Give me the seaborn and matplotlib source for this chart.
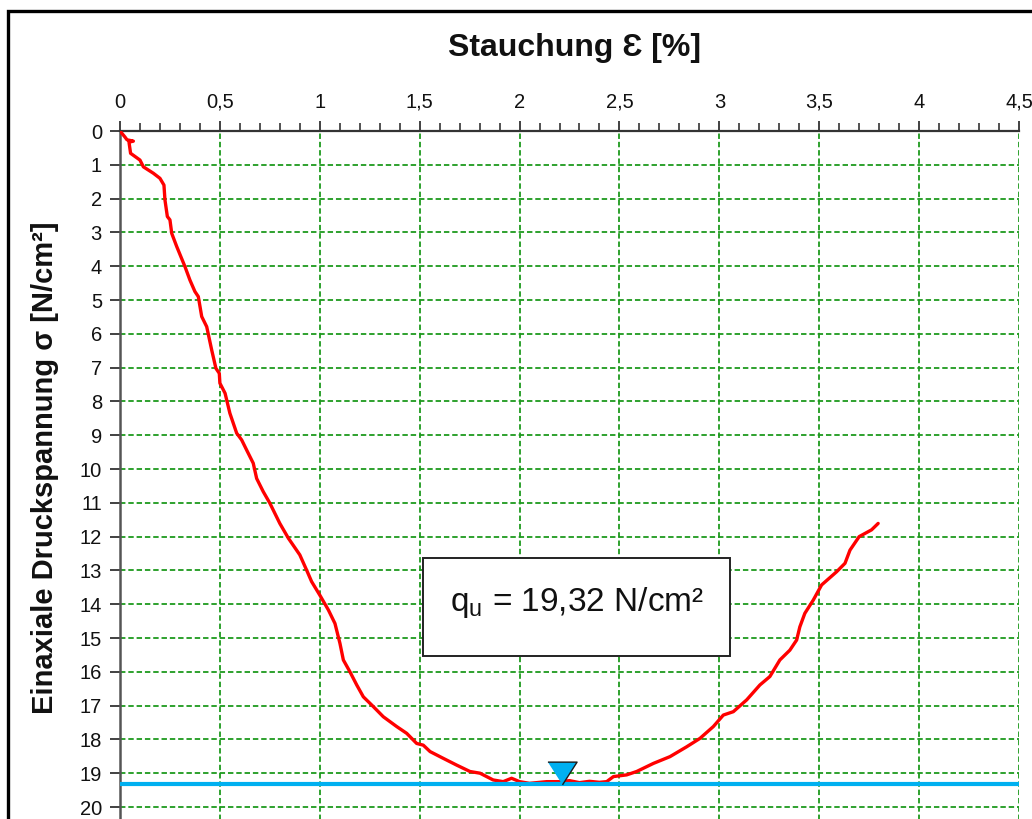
import matplotlib
matplotlib.use("Agg")
import matplotlib.pyplot as plt
import matplotlib.patches as mpatches
from matplotlib.ticker import MultipleLocator
import seaborn as sns
import pandas as pd

# ---- data ----
strain = [0.0, 0.025, 0.035, 0.067, 0.045, 0.053, 0.10, 0.117, 0.167, 0.20, 0.22,
          0.225, 0.237, 0.25, 0.259, 0.284, 0.325, 0.35, 0.375, 0.392, 0.409,
          0.434, 0.459, 0.48, 0.497, 0.50, 0.526, 0.55, 0.584, 0.609, 0.634,
          0.667, 0.684, 0.717, 0.75, 0.80, 0.843, 0.90, 0.934, 0.959, 1.0,
          1.043, 1.076, 1.101, 1.118, 1.151, 1.185, 1.218, 1.268, 1.318, 1.385,
          1.435, 1.485, 1.518, 1.552, 1.618, 1.685, 1.752, 1.802, 1.868, 1.918,
          1.96, 2.0, 2.05, 2.136, 2.20, 2.25, 2.30, 2.35, 2.40, 2.436, 2.47,
          2.536, 2.586, 2.67, 2.753, 2.836, 2.903, 2.97, 3.02, 3.07, 3.137,
          3.203, 3.253, 3.303, 3.353, 3.387, 3.403, 3.428, 3.47, 3.512, 3.587,
          3.629, 3.654, 3.70, 3.762, 3.795]
stress = [0.0, 0.18, 0.26, 0.30, 0.33, 0.66, 0.86, 1.06, 1.25, 1.40, 1.60,
          2.04, 2.53, 2.63, 3.03, 3.42, 4.01, 4.41, 4.75, 4.90, 5.49,
          5.79, 6.48, 7.02, 7.17, 7.46, 7.76, 8.35, 8.94, 9.14, 9.44,
          9.83, 10.28, 10.67, 11.01, 11.61, 12.05, 12.54, 12.99, 13.33, 13.73,
          14.17, 14.57, 15.16, 15.65, 16.00, 16.39, 16.74, 17.03, 17.33, 17.62,
          17.82, 18.12, 18.17, 18.36, 18.56, 18.76, 18.95, 19.00, 19.20, 19.25,
          19.15, 19.25, 19.30, 19.25, 19.25, 19.22, 19.28, 19.24, 19.27, 19.25, 19.10,
          19.05, 18.95, 18.71, 18.51, 18.22, 17.97, 17.62, 17.28, 17.18, 16.83,
          16.39, 16.14, 15.65, 15.36, 15.06, 14.67, 14.27, 13.88, 13.43, 13.04,
          12.79, 12.40, 12.00, 11.80, 11.61]
qu_value = 19.32
qu_strain = 2.21
x_ticks = [0, 0.5, 1, 1.5, 2, 2.5, 3, 3.5, 4, 4.5]
x_ticklabels = ["0", "0,5", "1", "1,5", "2", "2,5", "3", "3,5", "4", "4,5"]
y_ticks = list(range(0, 21))
title_text = "Stauchung Ɛ [%]"
ylabel_text = "Einaxiale Druckspannung σ [N/cm²]"
box_text = "q$_{\\mathregular{u}}$ = 19,32 N/cm²"

df = pd.DataFrame({"strain": strain, "stress": stress})

sns.set_style("white")
plt.rcParams["font.family"] = ["Liberation Sans", "DejaVu Sans"]
plt.rcParams["mathtext.fontset"] = "custom"
plt.rcParams["mathtext.rm"] = "Liberation Sans"

W, H = 1032, 819
fig = plt.figure(figsize=(W / 100, H / 100), dpi=100)
fig.patch.set_facecolor("white")

# axes geometry in pixels
left_px, right_px, top_px = 120, 1019, 131
px_per_y = 33.8
ymax = 22
bottom_px = top_px + ymax * px_per_y
ax = fig.add_axes([left_px / W, 1 - bottom_px / H, (right_px - left_px) / W,
                   (bottom_px - top_px) / H])
ax.set_facecolor("white")

sns.lineplot(data=df, x="strain", y="stress", sort=False, estimator=None,
             color="#FF0000", linewidth=2.4, ax=ax, zorder=4)

ax.axhline(qu_value, color="#00B0F0", linewidth=3, zorder=5)
tri = [(-1, 0.78), (1, 0.78), (0, -0.78)]
ax.plot([qu_strain], [qu_value - 0.33], marker=tri, markersize=21,
        markerfacecolor="#00B0F0", markeredgecolor="#1a1a1a",
        markeredgewidth=1.0, linestyle="none", zorder=6)

ax.set_xlim(0, 4.5)
ax.set_ylim(ymax, 0)
ax.xaxis.tick_top()
ax.xaxis.set_label_position("top")
ax.set_xticks(x_ticks)
ax.set_xticklabels(x_ticklabels)
ax.xaxis.set_minor_locator(MultipleLocator(0.1))
ax.set_yticks(y_ticks)
ax.set_yticklabels([str(v) for v in y_ticks])
ax.set_xlabel("")
ax.set_ylabel("")

ax.tick_params(axis="x", which="major", direction="out", length=7, width=1.3,
               color="#333333", labelsize=14.5, pad=7, labelcolor="#111111",
               top=True, bottom=False)
ax.tick_params(axis="x", which="minor", direction="out", length=6, width=1.2,
               color="#333333", top=True, bottom=False)
ax.tick_params(axis="y", which="major", direction="out", length=7, width=1.3,
               color="#333333", labelsize=14.5, pad=6, labelcolor="#111111",
               left=True)

ax.grid(True, which="major", color="#1E9A1E", linestyle=(0, (3, 1.6)),
        linewidth=1.3, zorder=1)
ax.set_axisbelow(True)

for side in ["right", "bottom"]:
    ax.spines[side].set_visible(False)
ax.spines["top"].set_color("#333333")
ax.spines["top"].set_linewidth(1.6)
ax.spines["left"].set_color("#555555")
ax.spines["left"].set_linewidth(1.8)

# annotation box
bx0 = (423 - left_px) / ((right_px - left_px) / 4.5)
bx1 = (730 - left_px) / ((right_px - left_px) / 4.5)
by0 = (558 - top_px) / px_per_y
by1 = (656 - top_px) / px_per_y
rect = mpatches.Rectangle((bx0, by0), bx1 - bx0, by1 - by0, facecolor="white",
                          edgecolor="#222222", linewidth=1.4, zorder=7)
ax.add_patch(rect)
ax.text((bx0 + bx1) / 2, (by0 + by1) / 2 - 0.12, box_text, ha="center",
        va="center", fontsize=24, color="#111111", zorder=8)

fig.text(574.5 / W, 1 - 48 / H, title_text, ha="center", va="center",
         fontsize=23, fontweight="bold", color="#111111")
fig.text(45 / W, 1 - 468 / H, ylabel_text, ha="center", va="center",
         rotation=90, fontsize=21, fontweight="bold", color="#111111")

# outer frame (cropped at right/bottom)
frame = mpatches.Rectangle((7.5 / W, -0.2), 1.2, 1 - 10.5 / H + 0.2,
                           transform=fig.transFigure, fill=False,
                           edgecolor="black", linewidth=2.4, zorder=10)
fig.patches.append(frame)

fig.savefig("out.png", dpi=100, facecolor="white")
